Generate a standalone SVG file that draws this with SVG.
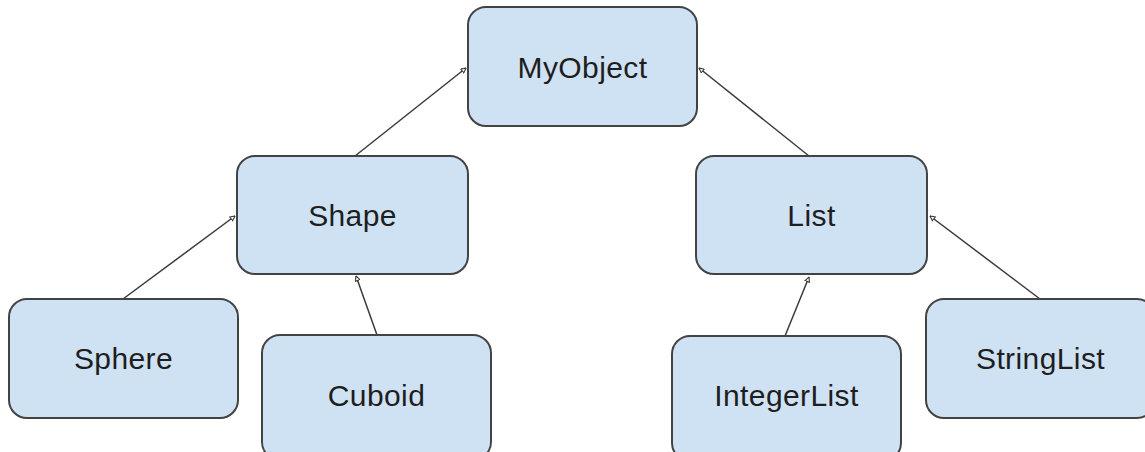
<svg xmlns="http://www.w3.org/2000/svg" width="1145" height="452" viewBox="0 0 1145 452">
<style>
.box{fill:#cfe2f3;stroke:#434343;stroke-width:2}
.lbl{font-family:"Liberation Sans",Arial,sans-serif;font-size:30px;letter-spacing:0.4px;fill:#1e1e1e;text-anchor:middle}
.conn{stroke:#3a3a3a;stroke-width:1.5;fill:none;marker-end:url(#tri)}
</style>
<defs>
<marker id="tri" viewBox="0 0 10 10" refX="9" refY="5" markerWidth="6" markerHeight="6" orient="auto" markerUnits="userSpaceOnUse">
<path d="M1,1 L9,5 L1,9 Z" fill="#ffffff" stroke="#3a3a3a" stroke-width="1.8"/>
</marker>
</defs>
<rect width="1145" height="452" fill="#ffffff"/>
<g id="connectors">
<line class="conn" x1="355" y1="156" x2="466" y2="68"/>
<line class="conn" x1="809" y1="156" x2="699" y2="68"/>
<line class="conn" x1="123" y1="299" x2="235" y2="216"/>
<line class="conn" x1="377" y1="335" x2="356" y2="276"/>
<line class="conn" x1="785" y1="336" x2="809" y2="277"/>
<line class="conn" x1="1040" y1="299" x2="930" y2="216"/>
</g>
<g id="MyObject"><rect class="box" x="468" y="7" width="229" height="119" rx="18"/><text class="lbl" x="582.5" y="78">MyObject</text></g>
<g id="Shape"><rect class="box" x="237" y="156" width="231" height="118" rx="18"/><text class="lbl" x="352.5" y="226">Shape</text></g>
<g id="List"><rect class="box" x="696" y="156" width="231" height="118" rx="18"/><text class="lbl" x="811.5" y="226">List</text></g>
<g id="Sphere"><rect class="box" x="9" y="299" width="229" height="119" rx="18"/><text class="lbl" x="123.5" y="369">Sphere</text></g>
<g id="Cuboid"><rect class="box" x="262" y="335" width="229" height="125" rx="18"/><text class="lbl" x="376.5" y="406">Cuboid</text></g>
<g id="IntegerList"><rect class="box" x="672" y="336" width="229" height="125" rx="18"/><text class="lbl" x="786.5" y="406">IntegerList</text></g>
<g id="StringList"><rect class="box" x="926" y="299" width="229" height="119" rx="18"/><text class="lbl" x="1040.5" y="369">StringList</text></g>
</svg>
